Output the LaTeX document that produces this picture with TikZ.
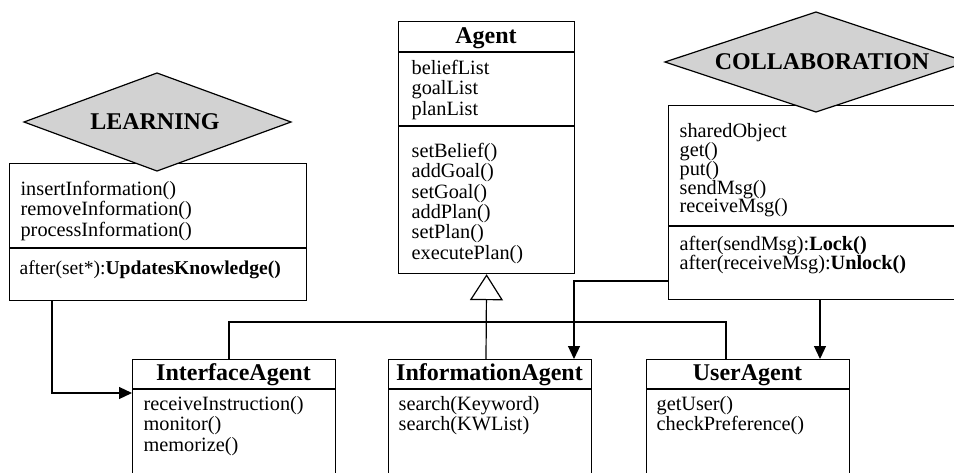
\documentclass[tikz,border=0pt]{standalone}
\usepackage{fontspec}
\setmainfont{Liberation Serif}
\usetikzlibrary{shapes.geometric,arrows.meta,calc}
\newcommand\bodyfont{\fontsize{20.3}{20.3}\selectfont}
\newcommand\titlefont{\fontsize{24}{26}\selectfont\bfseries}
\newcommand\fl{\rule{0pt}{16pt}}
\begin{document}
\begin{tikzpicture}[x=1pt,y=-1pt,line width=1.2pt,
  classbox/.style={draw, anchor=north west, inner sep=0pt},
  ctitle/.style={anchor=base, inner sep=0pt, font=\titlefont},
  clines/.style={anchor=north west, inner sep=0pt, align=left, font=\bodyfont},
  aspectfill/.style={draw, fill=gray!35, line join=miter},
  aspectname/.style={inner sep=0pt, font=\titlefont},
  assoc/.style={-{Triangle[length=13pt,width=12pt]}},
  inherit/.style={-{Triangle[open,length=26pt,width=33pt]}}]
\useasboundingbox (0,0) rectangle (954,472);
\clip (0,0) rectangle (954,472);

% ---- class boxes ----
\node[classbox, minimum width=176pt, minimum height=252pt] (agent) at (398,21) {};
\node[classbox, minimum width=297pt, minimum height=137pt] (learn) at (9,163) {};
\node[classbox, minimum width=300pt, minimum height=194pt] (collab) at (668,105) {};
\node[classbox, minimum width=203pt, minimum height=140pt] (iface) at (132,359) {};
\node[classbox, minimum width=203pt, minimum height=140pt] (info) at (388,359) {};
\node[classbox, minimum width=203pt, minimum height=140pt] (user) at (646,359) {};

% ---- compartment dividers ----
\draw (agent.west |- 0,52) -- (agent.east |- 0,52);
\draw (agent.west |- 0,126) -- (agent.east |- 0,126);
\draw (learn.west |- 0,248) -- (learn.east |- 0,248);
\draw (collab.west |- 0,226) -- (collab.east |- 0,226);
\draw (iface.west |- 0,389) -- (iface.east |- 0,389);
\draw (info.west |- 0,389) -- (info.east |- 0,389);
\draw (user.west |- 0,389) -- (user.east |- 0,389);

% ---- Agent ----
\node[ctitle] (agentname) at (486,43) {Agent};
\node[clines] (agentattr) at (411,58) {\fl beliefList\\goalList\\planList};
\node[clines] (agentops) at (411,141) {\fl setBelief()\\addGoal()\\setGoal()\\addPlan()\\setPlan()\\executePlan()};

% ---- Learning aspect ----
\node[clines] (learnops) at (20,179) {\fl insertInformation()\\removeInformation()\\processInformation()};
\node[clines, font=\fontsize{19.6}{20}\selectfont] (learnadv) at (19,258) {\fl after(set*):\textbf{UpdatesKnowledge()}};

% ---- Collaboration aspect ----
\node[clines, font=\fontsize{20.3}{18.8}\selectfont] (collabops) at (679,121)
  {\fl sharedObject\\get()\\put()\\sendMsg()\\receiveMsg()};
\node[clines, font=\fontsize{20.3}{19}\selectfont] (collabadv) at (679,234)
  {\fl after(sendMsg):\textbf{Lock()}\\after(receiveMsg):\textbf{Unlock()}};

% ---- Subclasses ----
\node[ctitle] (ifacename) at (233.5,380) {InterfaceAgent};
\node[clines] (ifaceops) at (143,394) {\fl receiveInstruction()\\monitor()\\memorize()};
\node[ctitle] (infoname) at (489.5,380) {InformationAgent};
\node[clines] (infoops) at (398,394) {\fl search(Keyword)\\search(KWList)};
\node[ctitle] (username) at (747.5,380) {UserAgent};
\node[clines] (userops) at (656,394) {\fl getUser()\\checkPreference()};

% ---- aspect diamonds ----
\draw[aspectfill] (24,122) -- (157,73) -- (291,122) -- (157,171) -- cycle;
\node[aspectname] (learning) at (155,122) {LEARNING};
\draw[aspectfill] (665,62) -- (816,12) -- (967,62) -- (816,112) -- cycle;
\node[aspectname] (collaboration) at (822,62) {COLLABORATION};

% ---- generalisation ----
\draw (iface.north -| 229,0) -- (229,322) -| (user.north -| 726,0);
\draw[inherit] (info.north -| 486,0) -- (agent.south);

% ---- aspect weaving ----
\draw[assoc] (learn.south -| 52,0) |- (iface.west |- 0,393);
\draw[assoc] (collab.west |- 0,281) -| (info.north -| 574,0);
\draw[assoc] (collab.south -| 820,0) -- (user.north -| 820,0);
\end{tikzpicture}
\end{document}
